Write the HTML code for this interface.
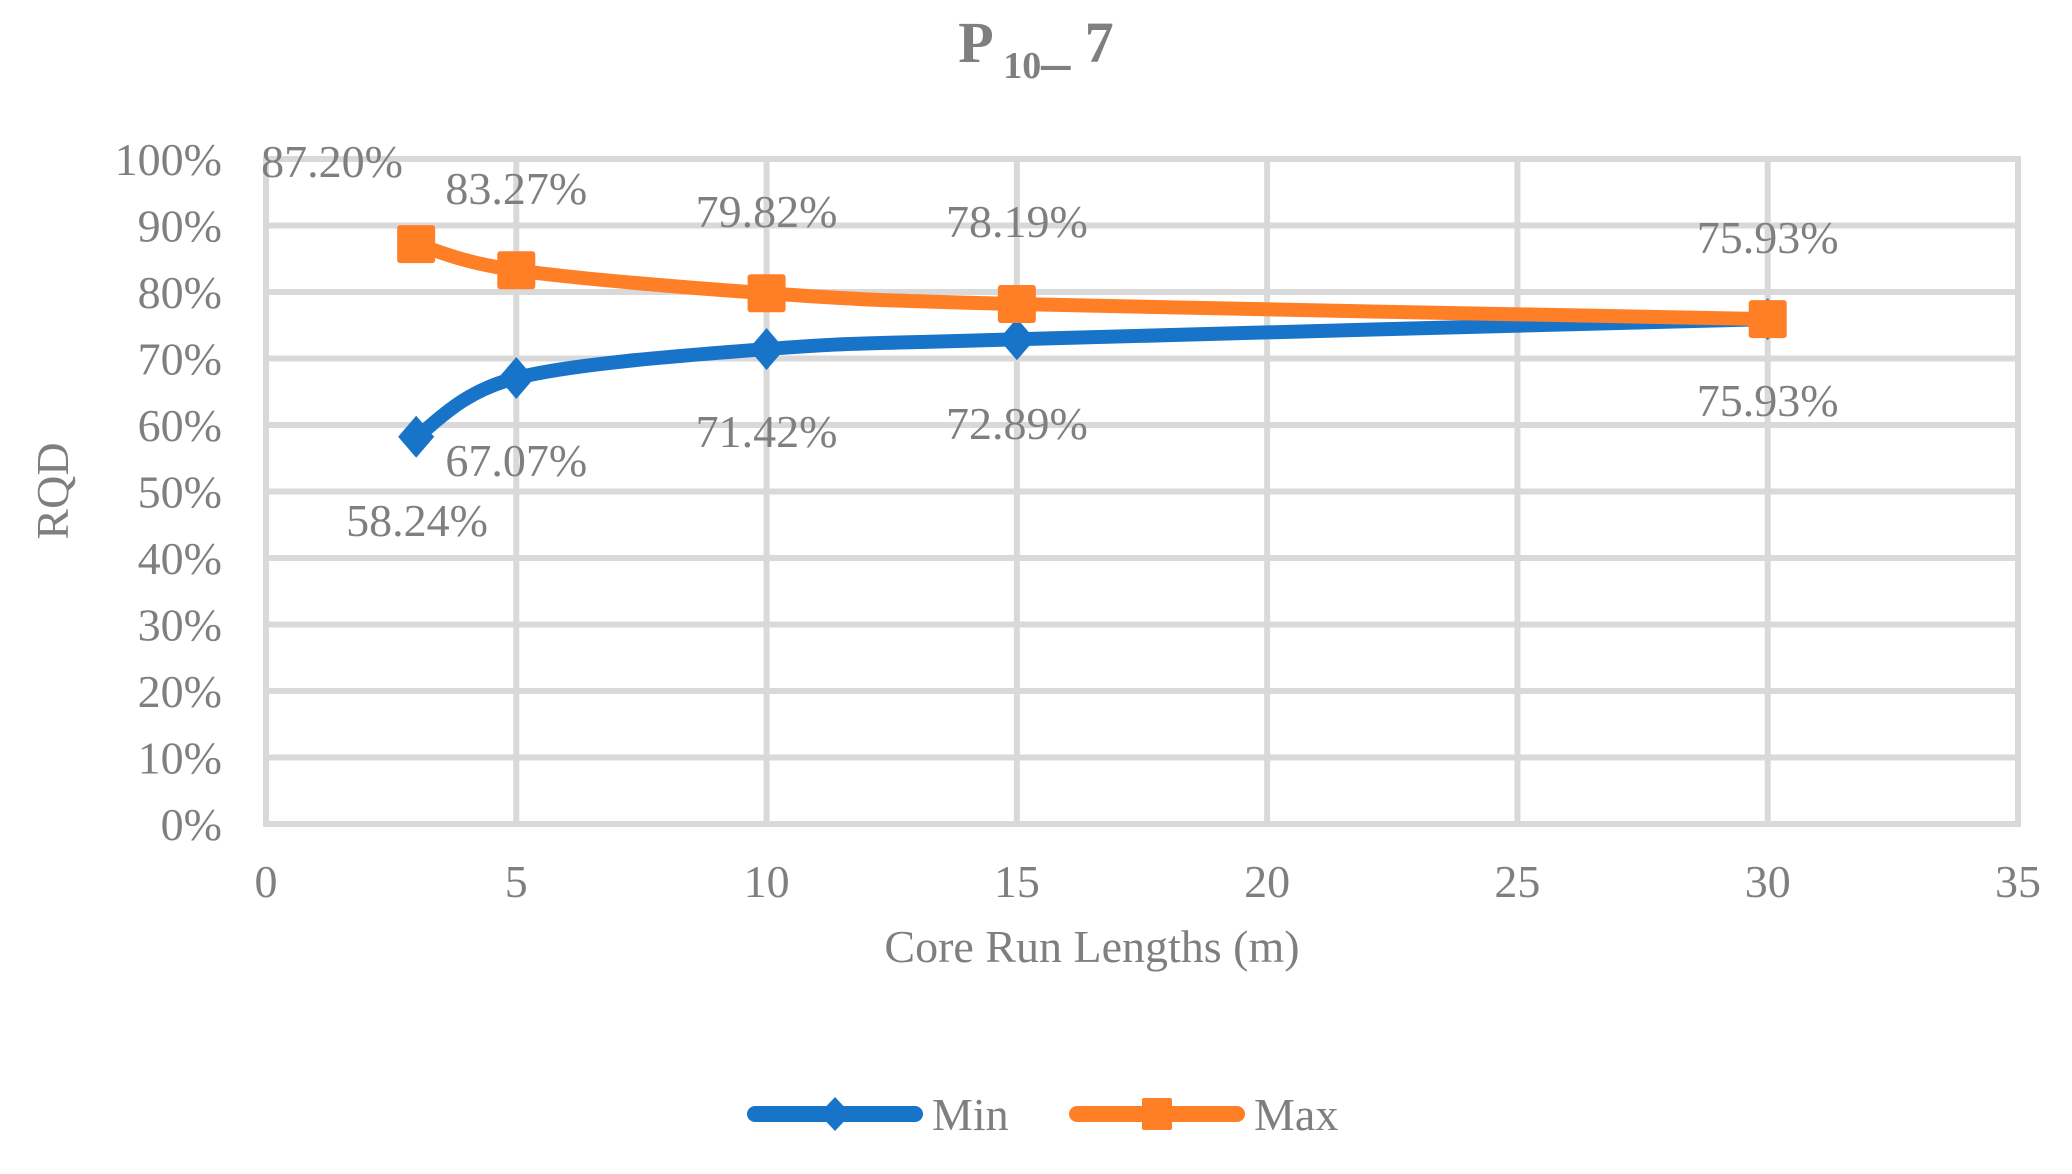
<!DOCTYPE html>
<html><head><meta charset="utf-8"><style>
body{margin:0;background:#fff}
svg{display:block;font-family:"Liberation Serif",serif}
</style></head><body>
<svg id="c" width="2072" height="1174" viewBox="0 0 2072 1174">
<text x="1036" y="62" text-anchor="middle" fill="#7f7f7f" font-size="58" font-weight="bold">P<tspan font-size="38" dy="16"> 10</tspan><tspan dy="-16">_ 7</tspan></text>
<g id="grid"></g>
<g id="ylab"></g>
<g id="xlab"></g>
<text x="1092" y="962" text-anchor="middle" fill="#7f7f7f" font-size="46">Core Run Lengths (m)</text>
<text transform="translate(68,491) rotate(-90)" text-anchor="middle" fill="#7f7f7f" font-size="46">RQD</text>
<g id="series"></g>
<g id="labels"></g>
<g>
<g>
<line x1="755" y1="1114" x2="915" y2="1114" stroke="#1874c8" stroke-width="16" stroke-linecap="round"/>
<polygon points="835,1097 851,1114 835,1131 819,1114" fill="#1874c8"/>
<text x="932" y="1130" fill="#7f7f7f" font-size="46">Min</text></g>
<g>
<line x1="1077" y1="1114" x2="1237" y2="1114" stroke="#ff7f27" stroke-width="16" stroke-linecap="round"/>
<rect x="1142" y="1098" width="30" height="32" rx="2" fill="#ff7f27"/>
<text x="1254" y="1130" fill="#7f7f7f" font-size="46">Max</text></g>
</g>
</svg>
<script>
const xValues=[3,5,10,15,30];
const minValues=[58.24,67.07,71.42,72.89,75.93];
const maxValues=[87.20,83.27,79.82,78.19,75.93];
const yTicks=[0,10,20,30,40,50,60,70,80,90,100];
const xTicks=[0,5,10,15,20,25,30,35];
const NS='http://www.w3.org/2000/svg';
const X=v=>266+(v/35)*(2018-266);
const Y=v=>824-(v/100)*(824-159);
function mk(t,a,p){const e=document.createElementNS(NS,t);for(const k in a)e.setAttribute(k,a[k]);p.appendChild(e);return e;}
const grid=document.getElementById('grid'),yl=document.getElementById('ylab'),xl=document.getElementById('xlab');
yTicks.forEach(t=>{const l=mk('line',{x1:266,x2:2021,y1:Y(t),y2:Y(t),stroke:'#d9d9d9','stroke-width':6},grid);


const tx=mk('text',{x:222,y:Y(t)+16,'text-anchor':'end',fill:'#7f7f7f','font-size':46},yl);tx.textContent=t+'%';

});
xTicks.forEach(t=>{const l=mk('line',{x1:X(t),x2:X(t),y1:156,y2:827,stroke:'#d9d9d9','stroke-width':6},grid);


const tx=mk('text',{x:X(t),y:897,'text-anchor':'middle',fill:'#7f7f7f','font-size':46},xl);tx.textContent=t;

});
function smooth(xs,ys){const p=xs.map((x,i)=>[X(x),Y(ys[i])]);let d='M'+p[0][0]+','+p[0][1];
for(let i=0;i<p.length-1;i++){const p0=p[i-1]||p[i],p1=p[i],p2=p[i+1],p3=p[i+2]||p2;const s=1/6;
d+=' C'+(p1[0]+(p2[0]-p0[0])*s)+','+(p1[1]+(p2[1]-p0[1])*s)+' '+(p2[0]-(p3[0]-p1[0])*s)+','+(p2[1]-(p3[1]-p1[1])*s)+' '+p2[0]+','+p2[1];}return d;}
const sg=document.getElementById('series'),lg=document.getElementById('labels');
const pMin=mk('path',{d:smooth(xValues,minValues),fill:'none',stroke:'#1874c8','stroke-width':14,'stroke-linejoin':'round'},sg);


const pMax=mk('path',{d:smooth(xValues,maxValues),fill:'none',stroke:'#ff7f27','stroke-width':14,'stroke-linejoin':'round'},sg);


const fmt=v=>v.toFixed(2)+'%';
const minLabelY=[520,460,431,423,400],maxLabelY=[161,188,211,221,237];
xValues.forEach((x,i)=>{
 const cx=X(x),cy=Y(minValues[i]);
 const d=mk('polygon',{points:`${cx},${cy-21} ${cx+18},${cy} ${cx},${cy+21} ${cx-18},${cy}`,fill:'#1874c8'},sg);
 
 
 const my=Y(maxValues[i]);
 const r=mk('rect',{x:cx-19,y:my-19,width:38,height:38,rx:3,fill:'#ff7f27'},sg);
 
 
 const t1=mk('text',{x:i==0?417:cx,y:minLabelY[i]+16,'text-anchor':'middle',fill:'#7f7f7f','font-size':46},lg);t1.textContent=fmt(minValues[i]);
 
 
 const t2=mk('text',{x:i==0?332:cx,y:maxLabelY[i]+16,'text-anchor':'middle',fill:'#7f7f7f','font-size':46},lg);t2.textContent=fmt(maxValues[i]);
 
 
});
</script>
</body></html>
